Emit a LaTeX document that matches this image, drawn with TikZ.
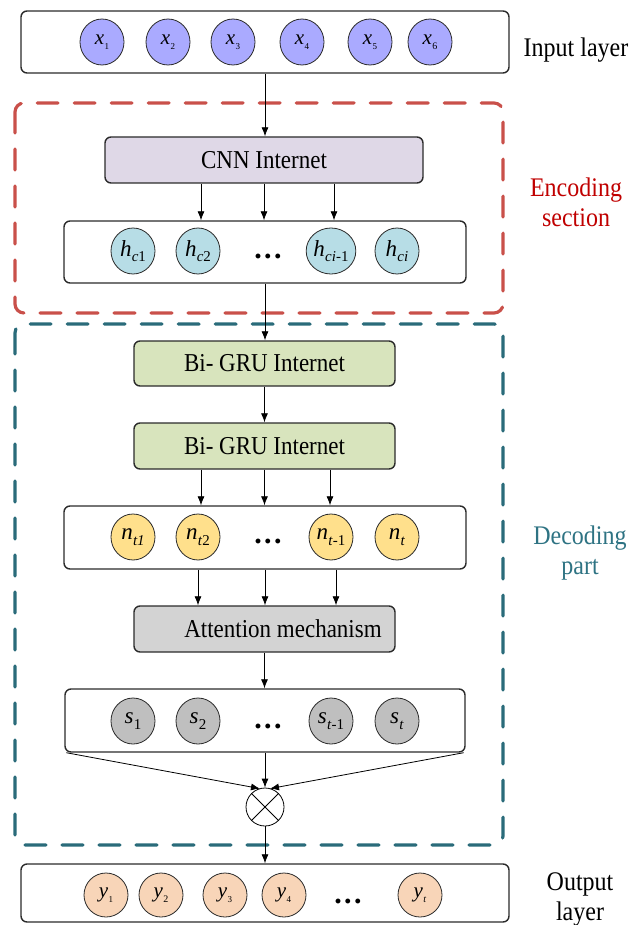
\documentclass[tikz,border=0pt]{standalone}
\usepackage{fontspec}
\setmainfont{Liberation Serif}
\usetikzlibrary{arrows.meta,shapes.geometric}
\definecolor{cinp}{HTML}{AAAAFF}
\definecolor{ccnn}{HTML}{DFD8E7}
\definecolor{ch}{HTML}{B7DDE6}
\definecolor{cgru}{HTML}{D8E4BD}
\definecolor{cn}{HTML}{FFE08C}
\definecolor{catt}{HTML}{D3D3D3}
\definecolor{cs}{HTML}{BFBFBF}
\definecolor{cy}{HTML}{F8D5B8}
\definecolor{cred}{HTML}{C9504A}
\definecolor{credtxt}{HTML}{C00000}
\definecolor{cteal}{HTML}{2A6B7A}
\definecolor{ctealtxt}{HTML}{2E7383}
\definecolor{cline}{HTML}{2B2B2B}
\newcommand\mylab[3]{\textit{#1}\kern0.3pt\raisebox{-0.25em}{\fontsize{#3}{#3}\selectfont #2}}
\newcommand\tall[1]{\scalebox{1}[1.12]{#1}}
\newcommand\bdots{\textbf{.\kern2.5pt.\kern2.5pt.}}
\tikzset{
  circ/.style={ellipse, draw=cline, line width=0.8pt, minimum width=44, minimum height=46, inner sep=0},
  boxrow/.style={draw=cline, line width=1.4pt, rounded corners=6pt, inner sep=0, fill=white},
  blk/.style={draw=cline, line width=1.4pt, rounded corners=6pt, inner sep=0, font=\fontsize{23}{23}\selectfont},
  arr/.style={-{Latex[length=9pt,width=7pt]}, line width=0.8pt, draw=black},
  grp/.style={line width=3.2pt, rounded corners=9pt, line cap=round, dash pattern=on 21pt off 16pt},
  sidelbl/.style={font=\fontsize{24}{30}\selectfont, align=center, anchor=base, inner sep=0},
  xf/.style={font=\fontsize{21}{21}\selectfont},
  hf/.style={font=\fontsize{23}{23}\selectfont},
  dots/.style={font=\fontsize{30}{30}\selectfont, anchor=base, inner sep=0}
}
\begin{document}
\begin{tikzpicture}[x=1pt,y=-1pt]
\useasboundingbox (0,0) rectangle (638,925);
% group frames
\draw[grp, draw=cred] (15,103) rectangle (503,313);
\draw[grp, draw=cteal] (15,324) rectangle (503,845);

% rows and blocks
\node[boxrow, minimum width=488, minimum height=62] (inp) at (265,42) {};
\node[blk, fill=ccnn, minimum width=318, minimum height=46] (cnn) at (264,160) {\tall{CNN Internet}};
\node[boxrow, minimum width=402, minimum height=62] (hb) at (265,252) {};
\node[blk, fill=cgru, minimum width=261, minimum height=45] (gru1) at (264.5,363.5) {\tall{Bi- GRU Internet}};
\node[blk, fill=cgru, minimum width=261, minimum height=46] (gru2) at (264.5,446) {\tall{Bi- GRU Internet}};
\node[boxrow, minimum width=402, minimum height=63] (nb) at (265,537.5) {};
\node[blk, fill=catt, minimum width=261, minimum height=46] (att) at (264.5,629) {};
\node[font=\fontsize{23}{23}\selectfont, inner sep=0] (atttxt) at (283,629) {\tall{Attention mechanism}};
\node[boxrow, minimum width=400, minimum height=63] (sb) at (265,720.5) {};
\node[circle, draw=black, line width=0.8pt, minimum size=38, inner sep=0] (ot) at (265,807) {};
\draw[line width=0.8pt] (ot.north west) -- (ot.south east) (ot.north east) -- (ot.south west);
\node[boxrow, minimum width=488, minimum height=58] (outb) at (265,893) {};

% input circles
\node[circ, fill=cinp, xf] (x1) at (102,42) {\mylab{x}{1}{9}};
\node[circ, fill=cinp, xf] (x2) at (168,42) {\mylab{x}{2}{9}};
\node[circ, fill=cinp, xf] (x3) at (233,42) {\mylab{x}{3}{9}};
\node[circ, fill=cinp, xf] (x4) at (302,42) {\mylab{x}{4}{9}};
\node[circ, fill=cinp, xf] (x5) at (370,42) {\mylab{x}{5}{9}};
\node[circ, fill=cinp, xf] (x6) at (430,42) {\mylab{x}{6}{10}};

% h circles
\node[circ, fill=ch, hf] (h1) at (133,251) {\mylab{h}{\textit{c}1}{15}};
\node[circ, fill=ch, hf] (h2) at (198,251) {\mylab{h}{\textit{c}2}{15}};
\node[dots] (hd) at (268,258) {\bdots};
\node[circ, fill=ch, hf] (h3) at (331,251) {\mylab{h}{\textit{ci}-1}{15}};
\node[circ, fill=ch, hf] (h4) at (397,251) {\mylab{h}{\textit{ci}}{15}};

% n circles
\node[circ, fill=cn, hf] (n1) at (133,537) {\mylab{n}{\textit{t1}}{15}};
\node[circ, fill=cn, hf] (n2) at (198,537) {\mylab{n}{\textit{t}2}{15}};
\node[dots] (nd) at (268,543) {\bdots};
\node[circ, fill=cn, hf] (n3) at (331,537) {\mylab{n}{\textit{t}-1}{15}};
\node[circ, fill=cn, hf] (n4) at (397,537) {\mylab{n}{\textit{t}}{15}};

% s circles
\node[circ, fill=cs, hf] (s1) at (133,721) {\mylab{s}{1}{15}};
\node[circ, fill=cs, hf] (s2) at (198,721) {\mylab{s}{2}{15}};
\node[dots] (sd) at (268,728) {\bdots};
\node[circ, fill=cs, hf] (s3) at (331,721) {\mylab{s}{\textit{t}-1}{15}};
\node[circ, fill=cs, hf] (s4) at (397,721) {\mylab{s}{\textit{t}}{15}};

% output circles
\node[circ, fill=cy, xf, minimum height=44] (y1) at (106,895) {\mylab{y}{1}{9}};
\node[circ, fill=cy, xf, minimum height=44] (y2) at (161,895) {\mylab{y}{2}{10}};
\node[circ, fill=cy, xf, minimum height=44] (y3) at (225,895) {\mylab{y}{3}{9}};
\node[circ, fill=cy, xf, minimum height=44] (y4) at (284,895) {\mylab{y}{4}{9}};
\node[dots] (yd) at (348,903) {\bdots};
\node[circ, fill=cy, xf, minimum height=44] (y5) at (420,895) {\mylab{y}{\textit{t}}{10}};

% connectors
\draw[arr] (inp.south) -- (inp.south |- cnn.north);
\draw[arr] ([xshift=-63]cnn.south) -- ([xshift=-63]cnn.south |- hb.north);
\draw[arr] (cnn.south) -- (cnn.south |- hb.north);
\draw[arr] ([xshift=70]cnn.south) -- ([xshift=70]cnn.south |- hb.north);
\draw[arr] (hb.south) -- (hb.south |- gru1.north);
\draw[arr] (gru1.south) -- (gru2.north);
\draw[arr] ([xshift=-63.5]gru2.south) -- ([xshift=-63.5]gru2.south |- nb.north);
\draw[arr] (gru2.south) -- (gru2.south |- nb.north);
\draw[arr] ([xshift=65.5]gru2.south) -- ([xshift=65.5]gru2.south |- nb.north);
\draw[arr] ([xshift=-67]nb.south) -- ([xshift=-67]nb.south |- att.north);
\draw[arr] (nb.south) -- (nb.south |- att.north);
\draw[arr] ([xshift=71]nb.south) -- ([xshift=71]nb.south |- att.north);
\draw[arr] (att.south) -- (att.south |- sb.north);
\draw[arr] ([xshift=2]sb.south west) -- ([xshift=-5,yshift=-1]ot.north);
\draw[arr] (sb.south) -- (ot.north);
\draw[arr] ([xshift=-2]sb.south east) -- ([xshift=5,yshift=-1]ot.north);
\draw[arr] (ot.south) -- (ot.south |- outb.north);

% side labels
\node[sidelbl] (lin) at (576,57) {\tall{Input layer}};
\node[sidelbl, text=credtxt] (lenc) at (576,226) {\tall{Encoding}\\\tall{section}};
\node[sidelbl, text=ctealtxt] (ldec) at (580,574) {\tall{Decoding}\\\tall{part}};
\node[sidelbl] (lout) at (580,920) {\tall{Output}\\\tall{layer}};
\end{tikzpicture}
\end{document}
